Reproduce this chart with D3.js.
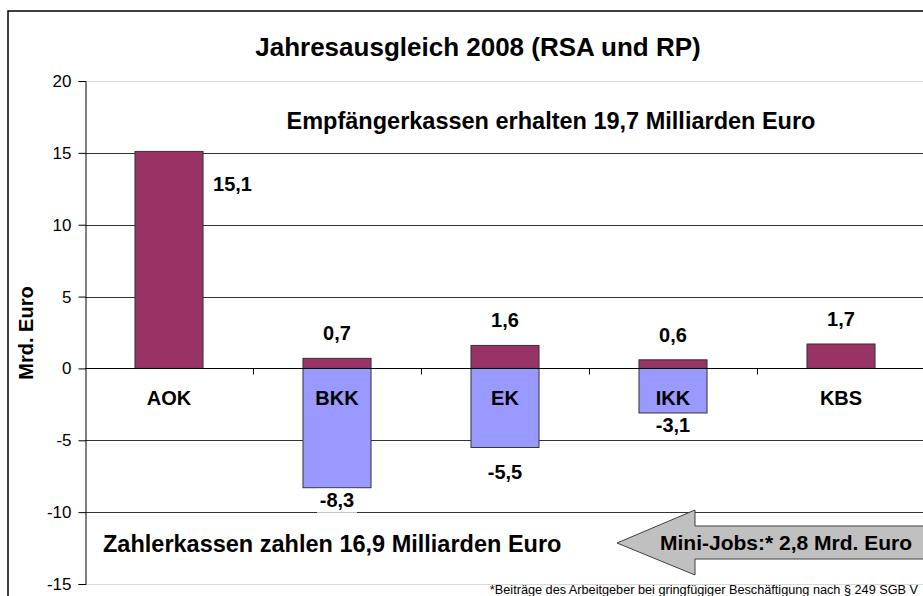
<!DOCTYPE html>
<html>
<head>
<meta charset="utf-8">
<script src="https://cdn.jsdelivr.net/npm/d3@7"></script>
<style>
  html, body { margin: 0; padding: 0; background: #fff; }
  svg text { font-family: "Liberation Sans", Arial, sans-serif; }
</style>
</head>
<body>
<div id="chart"></div>
<script>
// Jahresausgleich 2008 - Empfänger (positiv) und Zahler (negativ) je Kassenart
const categories = ["AOK", "BKK", "EK", "IKK", "KBS"];
const receive = [15.1, 0.7, 1.6, 0.6, 1.7];
const pay = [0, -8.3, -5.5, -3.1, 0];
const yTicks = [-15, -10, -5, 0, 5, 10, 15, 20];

const width = 923, height = 596;
const fmt = v => d3.format(".1f")(v).replace(".", ",").replace("\u2212", "-");

const svg = d3.select("#chart").append("svg")
  .attr("width", width)
  .attr("height", height);

// outer frame (runs off the right and bottom edge)
svg.append("rect")
  .attr("x", 8).attr("y", 11)
  .attr("width", 1000).attr("height", 1000)
  .attr("fill", "#fff")
  .attr("stroke", "#000")
  .attr("stroke-width", 1.5);

const x = d3.scaleBand()
  .domain(categories)
  .range([85, 925])
  .paddingInner(0.595)
  .paddingOuter(0.2975);

const y = d3.scaleLinear()
  .domain([-15, 20])
  .range([584, 81]);

// gridlines
svg.append("g")
  .selectAll("line")
  .data(yTicks.filter(d => d !== 0))
  .enter().append("line")
  .attr("x1", 85).attr("x2", 930)
  .attr("y1", d => Math.round(y(d)) + 0.5)
  .attr("y2", d => Math.round(y(d)) + 0.5)
  .attr("stroke", d => (d === 20 || d === -15) ? "#d9d9d9" : "#333")
  .attr("stroke-width", 1);

// y axis
const yAxis = svg.append("g")
  .attr("transform", "translate(85.5,0)")
  .call(d3.axisLeft(y).tickValues(yTicks).tickSize(7).tickPadding(7).tickFormat(d => d));
yAxis.select(".domain").attr("stroke", "#000");
yAxis.selectAll(".tick line").attr("stroke", "#000");
yAxis.selectAll(".tick text")
  .attr("fill", "#000")
  .style("font-size", "17px")
  .style("font-family", "'Liberation Sans', Arial, sans-serif");

// bars
const bars = svg.append("g");
bars.selectAll(".pay")
  .data(categories.map((c, i) => ({ c, v: pay[i] })).filter(d => d.v !== 0))
  .enter().append("rect")
  .attr("class", "pay")
  .attr("x", d => x(d.c))
  .attr("y", y(0))
  .attr("width", x.bandwidth())
  .attr("height", d => y(d.v) - y(0))
  .attr("fill", "#9999ff")
  .attr("stroke", "#333")
  .attr("stroke-width", 1);

bars.selectAll(".rec")
  .data(categories.map((c, i) => ({ c, v: receive[i] })))
  .enter().append("rect")
  .attr("class", "rec")
  .attr("x", d => x(d.c))
  .attr("y", d => y(d.v))
  .attr("width", x.bandwidth())
  .attr("height", d => y(0) - y(d.v))
  .attr("fill", "#993366")
  .attr("stroke", "#333")
  .attr("stroke-width", 1);

// category axis at zero
const xAxis = svg.append("g")
  .attr("transform", `translate(0,${Math.round(y(0)) + 0.5})`);
xAxis.append("line")
  .attr("x1", 85).attr("x2", 930)
  .attr("stroke", "#000");
xAxis.selectAll(".sep")
  .data(categories.slice(1))
  .enter().append("line")
  .attr("x1", d => Math.round(x(d) - x.step() * x.paddingInner() / 2) + 0.5)
  .attr("x2", d => Math.round(x(d) - x.step() * x.paddingInner() / 2) + 0.5)
  .attr("y1", 0).attr("y2", 6)
  .attr("stroke", "#000");
xAxis.selectAll(".cat")
  .data(categories)
  .enter().append("text")
  .attr("x", d => x(d) + x.bandwidth() / 2)
  .attr("y", 36)
  .attr("text-anchor", "middle")
  .style("font-size", "20px")
  .style("font-weight", "bold")
  .text(d => d);

// value labels
const labels = svg.append("g").style("font-size", "20px").style("font-weight", "bold");
receive.forEach((v, i) => {
  const c = categories[i];
  const cx = x(c) + x.bandwidth() / 2;
  if (i === 0) {
    labels.append("text")
      .attr("x", x(c) + x.bandwidth() + 10)
      .attr("y", y(v) + 40)
      .text(fmt(v));
  } else {
    labels.append("text")
      .attr("x", cx)
      .attr("y", y(v) - 18)
      .attr("text-anchor", "middle")
      .text(fmt(v));
  }
});
const payGap = { EK: 32 };
pay.forEach((v, i) => {
  if (v === 0) return;
  const c = categories[i];
  const cx = x(c) + x.bandwidth() / 2;
  const ty = y(v) + (payGap[c] || 19);
  labels.append("rect")
    .attr("x", cx - 20).attr("y", y(v) + 1)
    .attr("width", 40).attr("height", ty - y(v) + 5)
    .attr("fill", "#fff");
  labels.append("text")
    .attr("x", cx)
    .attr("y", ty)
    .attr("text-anchor", "middle")
    .text(fmt(v));
});

// title and annotations
svg.append("text")
  .attr("x", 478).attr("y", 56)
  .attr("text-anchor", "middle")
  .style("font-size", "26px")
  .style("font-weight", "bold")
  .text("Jahresausgleich 2008 (RSA und RP)");

svg.append("text")
  .attr("x", 551).attr("y", 129)
  .attr("text-anchor", "middle")
  .style("font-size", "23.5px")
  .style("font-weight", "bold")
  .text("Empfängerkassen erhalten 19,7 Milliarden Euro");

svg.append("text")
  .attr("x", 103).attr("y", 552)
  .style("font-size", "23.5px")
  .style("font-weight", "bold")
  .text("Zahlerkassen zahlen 16,9 Milliarden Euro");

svg.append("text")
  .attr("transform", "translate(33,333) rotate(-90)")
  .attr("text-anchor", "middle")
  .style("font-size", "20px")
  .style("font-weight", "bold")
  .text("Mrd. Euro");

// Mini-Jobs arrow
const arrow = [[617, 543], [695, 510], [695, 526], [935, 526], [935, 559], [695, 559], [695, 575]];
svg.append("polygon")
  .attr("points", arrow.map(p => p.join(",")).join(" "))
  .attr("fill", "#c0c0c0")
  .attr("stroke", "#404040")
  .attr("stroke-width", 1);
svg.append("text")
  .attr("x", 660).attr("y", 550)
  .style("font-size", "21px")
  .style("font-weight", "bold")
  .text("Mini-Jobs:* 2,8 Mrd. Euro");

svg.append("text")
  .attr("x", 918).attr("y", 594)
  .attr("text-anchor", "end")
  .style("font-size", "12.7px")
  .text("*Beiträge des Arbeitgeber bei gringfügiger Beschäftigung nach § 249 SGB V");
</script>
</body>
</html>
